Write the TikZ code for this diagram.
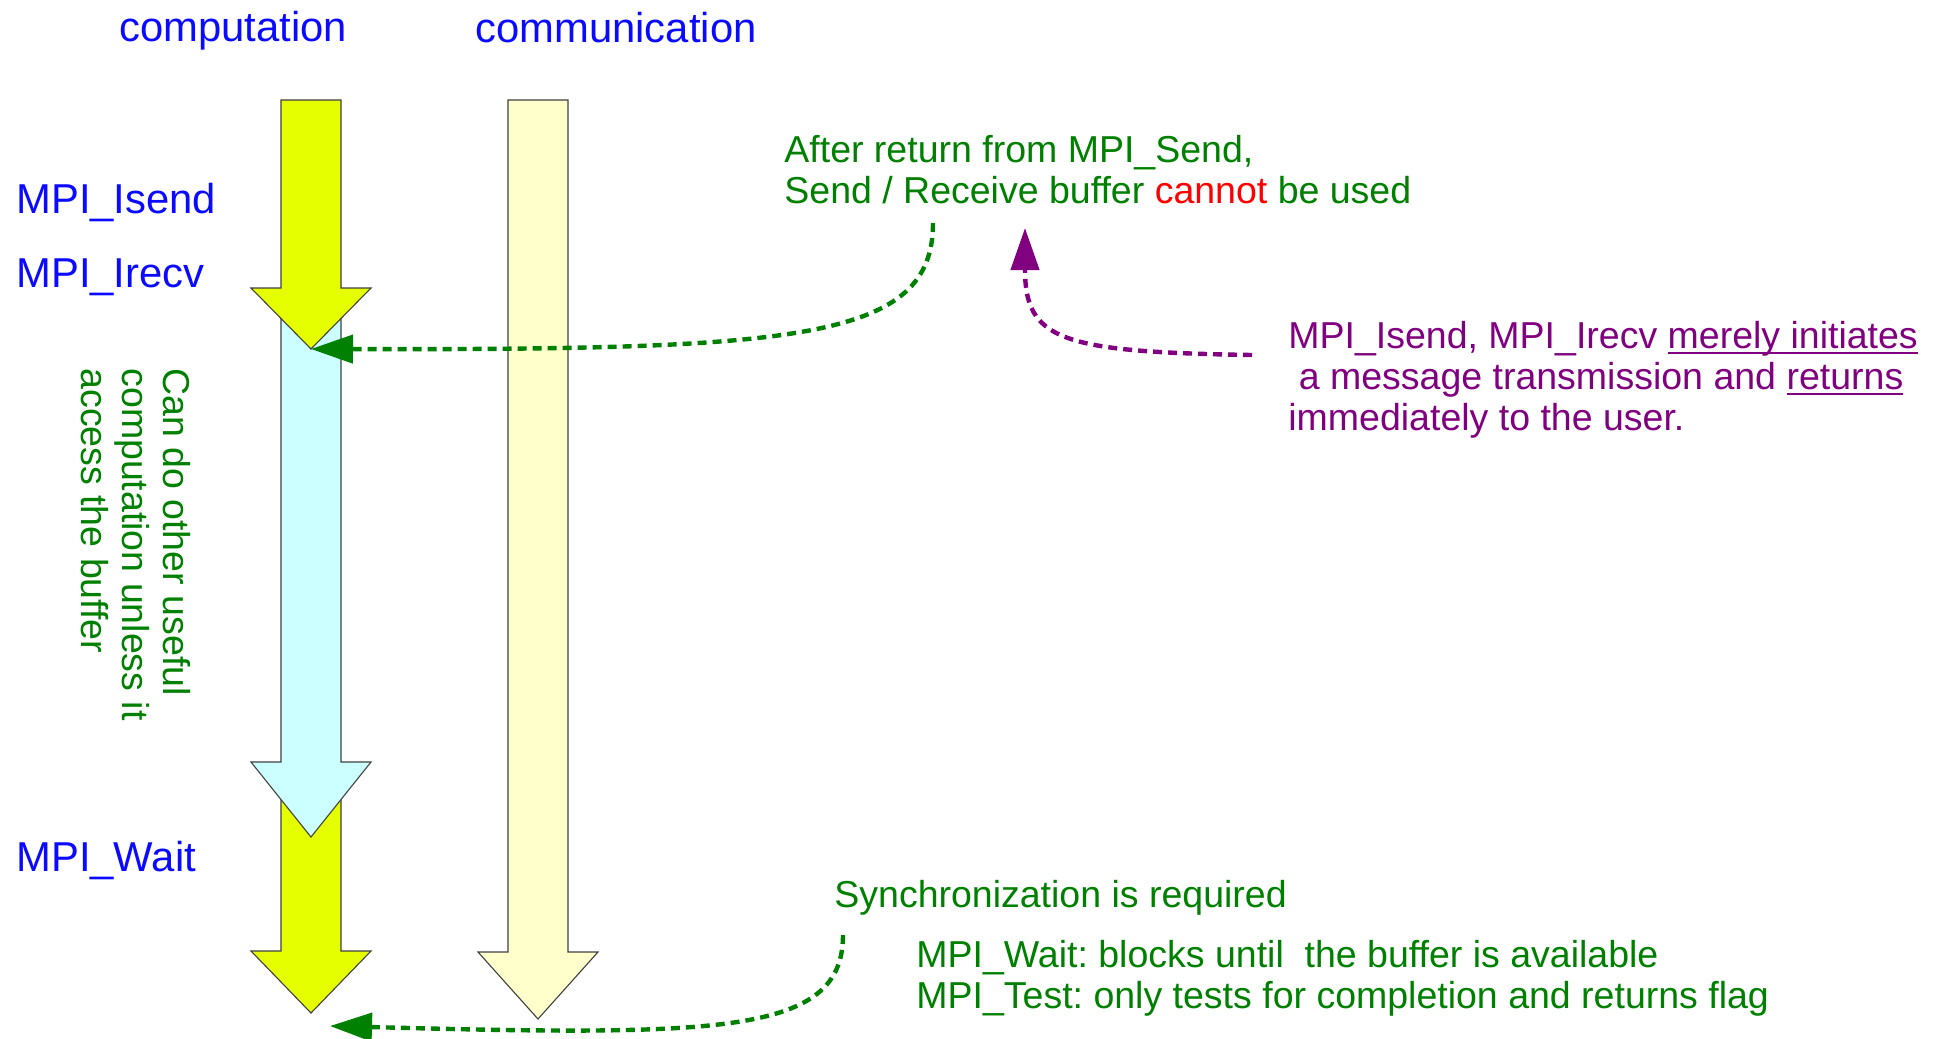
\documentclass[tikz,border=0pt]{standalone}
\usepackage{fontspec}
\setmainfont{Liberation Sans}
\usepackage{tikz}
\usetikzlibrary{arrows.meta}
\tikzset{>={Triangle[length=21pt,width=14pt]}}
\usepackage{xcolor}
\definecolor{mgreen}{RGB}{0,128,0}
\definecolor{mpurple}{RGB}{128,0,128}
\definecolor{mblue}{RGB}{10,10,255}
\definecolor{ayellow}{RGB}{230,255,0}
\definecolor{acyan}{RGB}{204,255,255}
\definecolor{alight}{RGB}{255,255,204}
\tikzstyle{block}=[draw=black!75,line width=0.55pt,line join=miter]
\tikzstyle{cue}=[->,line width=2.2pt,dash pattern=on 4.5pt off 3pt]
\tikzstyle{callname}=[text=mblue,inner sep=0,font=\fontsize{20.9}{24}\selectfont]
\tikzstyle{note}=[text=mgreen,inner sep=0,font=\fontsize{18.75}{20.5}\selectfont]
% fill, x of middle, top, start of head, tip
\newcommand{\flowarrow}[5]{%
  \draw[block,fill=#1] (#2-30,#3) -- (#2+30,#3) -- (#2+30,#4) -- (#2+60,#4)
    -- (#2,#5) -- (#2-60,#4) -- (#2-30,#4) -- cycle;}
\newcommand{\underlined}[1]{\setbox0\hbox{#1}\rlap{\rule[-2.6pt]{\wd0}{0.8pt}}\box0}
\frenchspacing

\begin{document}
\begin{tikzpicture}[x=0.5pt,y=-0.5pt]
  \useasboundingbox (0,0) rectangle (1939,1039);

  % time lines
  \flowarrow{ayellow}{311}{790}{951}{1013}
  \flowarrow{acyan}{311}{300}{762}{837}
  \flowarrow{ayellow}{311}{100}{288}{349}
  \flowarrow{alight}{538}{100}{952}{1019}

  \node[callname,anchor=base] (comp) at (233,41) {computation};
  \node[callname,anchor=base] (comm) at (616,42) {communication};
  \node[callname,anchor=base west] (isend) at (16,213) {MPI\_Isend};
  \node[callname,anchor=base west] (irecv) at (16,287) {MPI\_Irecv};
  \node[callname,anchor=base west] (wait) at (16,871) {MPI\_Wait};

  \node[note,rotate=-90,anchor=north west,align=left] (useful) at (191,368)
    {Can do other useful\\computation unless it\\access the buffer};

  % notes
  \node[note,anchor=north west,align=left] (after) at (784,135)
    {After return from MPI\_Send,\\Send / Receive buffer \textcolor{red}{cannot} be used};
  \node[note,text=mpurple,anchor=north west,align=left] (merely) at (1288,321)
    {MPI\_Isend, MPI\_Irecv \underlined{merely initiates}\\
     \ a message transmission and \underlined{returns}\\
     immediately to the user.};
  \node[note,anchor=base west] (sync) at (834,907) {Synchronization is required};
  \node[note,anchor=north west,align=left] (waittest) at (916,940)
    {MPI\_Wait: blocks until\ \ the buffer is available\\
     MPI\_Test: only tests for completion and returns flag};

  \coordinate (isendtip) at (311,349);
  \coordinate (waitpt) at (330,1026);
  \coordinate (afterfoot) at (933,223);
  \coordinate (cannotfoot) at (1025,228);
  \coordinate (merelyfoot) at (1252,355);
  \coordinate (syncfoot) at (843,935);

  % dashed hints
  \draw[cue,mgreen] (afterfoot) .. controls (933,340) and (800,350) .. (isendtip);
  \draw[cue,mpurple] (merelyfoot) .. controls (1060,352) and (1025,340) .. (cannotfoot);
  \draw[cue,mgreen] (syncfoot) .. controls (843,1035) and (720,1036) .. (waitpt);

\end{tikzpicture}
\end{document}
